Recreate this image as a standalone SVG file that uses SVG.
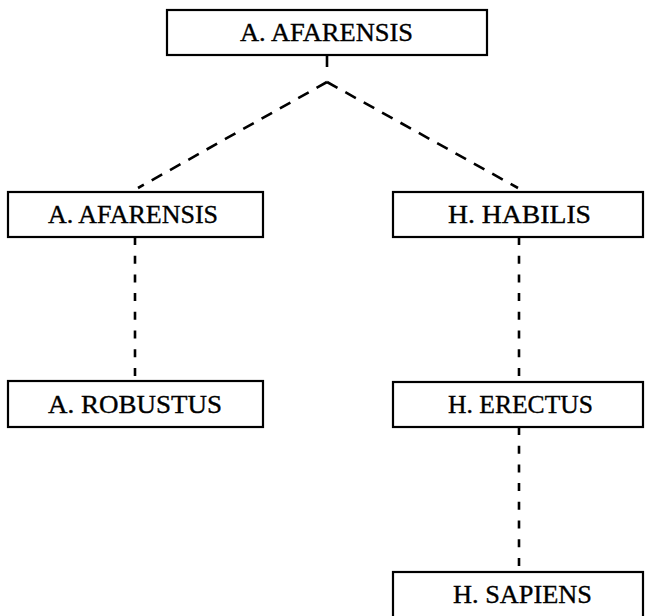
<svg xmlns="http://www.w3.org/2000/svg" width="648" height="616" viewBox="0 0 648 616">
<style>
.box{fill:#fff;stroke:#000;stroke-width:2.2}
.lbl{font-family:"Liberation Serif","Times New Roman",serif;font-size:25px;fill:#000;stroke:#000;stroke-width:0.35}
.dash{stroke:#000;stroke-width:2.6;fill:none}
.v{stroke-dasharray:8 10.7}
.d{stroke-dasharray:12 9}
</style>
<rect width="648" height="616" fill="#fff"/>
<g id="connectors">
<line class="dash" x1="327" y1="55" x2="327" y2="67"/>
<line class="dash d" x1="327" y1="82" x2="138" y2="188"/>
<line class="dash d" x1="327" y1="82" x2="518" y2="188"/>
<line class="dash v" x1="135" y1="237" x2="135" y2="381"/>
<line class="dash v" x1="519" y1="237" x2="519" y2="382"/>
<line class="dash v" x1="519" y1="427" x2="519" y2="572"/>
</g>
<g id="n-top">
<rect class="box" x="167" y="10" width="320" height="45"/>
<text class="lbl" x="240" y="41" textLength="173" lengthAdjust="spacingAndGlyphs">A. AFARENSIS</text>
</g>
<g id="n-afarensis">
<rect class="box" x="8" y="192" width="255" height="45"/>
<text class="lbl" x="48" y="223" textLength="170" lengthAdjust="spacingAndGlyphs">A. AFARENSIS</text>
</g>
<g id="n-habilis">
<rect class="box" x="393" y="192" width="250" height="45"/>
<text class="lbl" x="448" y="223" textLength="143" lengthAdjust="spacingAndGlyphs">H. HABILIS</text>
</g>
<g id="n-robustus">
<rect class="box" x="8" y="381" width="255" height="46"/>
<text class="lbl" x="48" y="413" textLength="174" lengthAdjust="spacingAndGlyphs">A. ROBUSTUS</text>
</g>
<g id="n-erectus">
<rect class="box" x="393" y="382" width="250" height="45"/>
<text class="lbl" x="448" y="413" textLength="145" lengthAdjust="spacingAndGlyphs">H. ERECTUS</text>
</g>
<g id="n-sapiens">
<rect class="box" x="393" y="572" width="250" height="60"/>
<text class="lbl" x="453" y="603" textLength="139" lengthAdjust="spacingAndGlyphs">H. SAPIENS</text>
</g>
</svg>
